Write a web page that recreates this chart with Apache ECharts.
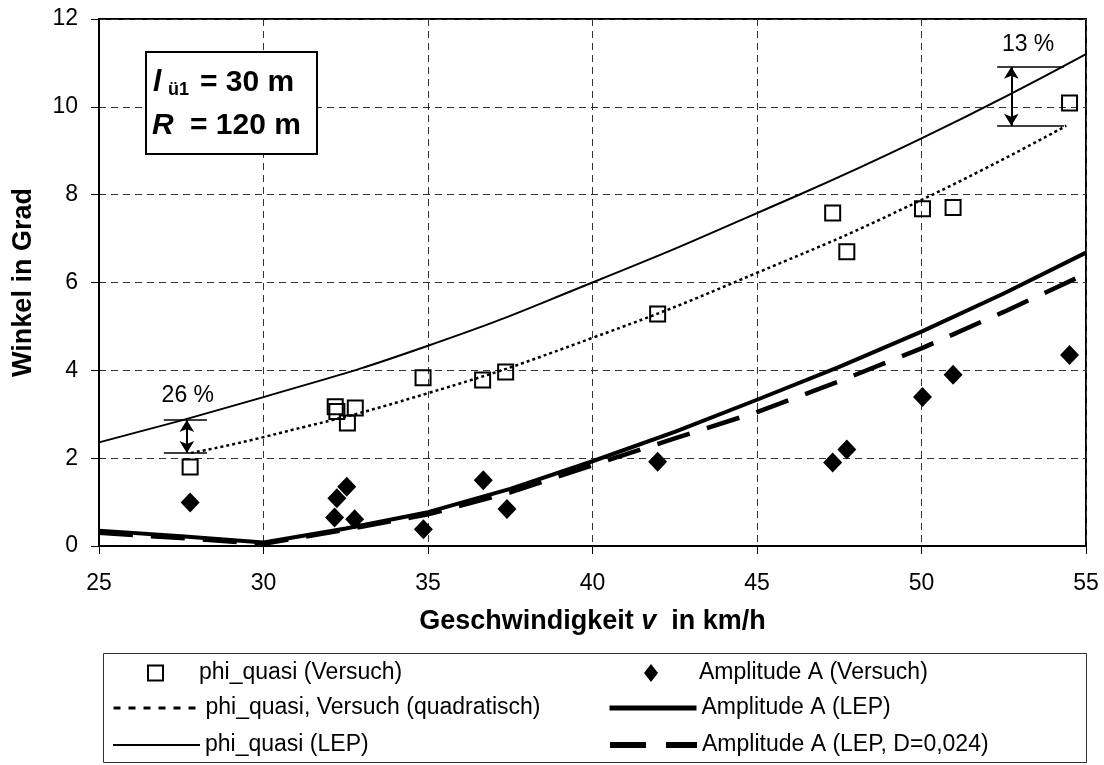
<!DOCTYPE html>
<html><head><meta charset="utf-8">
<script src="https://cdn.jsdelivr.net/npm/echarts@6/dist/echarts.min.js"></script>
<style>html,body{margin:0;padding:0;background:#fff}#c{width:1104px;height:765px}</style>
</head><body><div id="c"></div>
<script>
// ---- data ----
const xTicks = [25, 30, 35, 40, 45, 50, 55];
const yTicks = [0, 2, 4, 6, 8, 10, 12];

const phiVersuchX = [27.77, 32.18, 32.23, 32.55, 32.79, 34.85, 36.66, 37.36, 41.98, 47.3, 47.73, 50.03, 50.96, 54.5];
const phiVersuchY = [1.8, 3.17, 3.06, 2.8, 3.14, 3.83, 3.78, 3.96, 5.28, 7.58, 6.7, 7.68, 7.71, 10.09];

const ampVersuchX = [27.77, 32.16, 32.23, 32.53, 32.77, 34.86, 36.68, 37.4, 41.98, 47.3, 47.73, 50.03, 50.96, 54.5];
const ampVersuchY = [0.99, 0.65, 1.09, 1.35, 0.61, 0.38, 1.5, 0.84, 1.92, 1.9, 2.2, 3.39, 3.9, 4.35];

const quadX = [27.8, 30, 35, 40, 45, 50, 54.4];
const quadY = [2.12, 2.48, 3.48, 4.74, 6.22, 7.88, 9.57];

const phiLepX = [25, 30, 35, 40, 45, 50, 55];
const phiLepY = [2.36, 3.39, 4.56, 6.0, 7.58, 9.28, 11.2];

const ampLepX = [25, 27.5, 30, 32.5, 35, 37.5, 40, 42.5, 45, 47.5, 50, 52.5, 55];
const ampLepY = [0.35, 0.22, 0.08, 0.4, 0.77, 1.3, 1.93, 2.6, 3.33, 4.08, 4.88, 5.75, 6.68];

const ampDX = [25, 27.5, 30, 32.5, 35, 37.5, 40, 42.5, 45, 47.5, 50, 52.5, 55];
const ampDY = [0.3, 0.18, 0.05, 0.37, 0.72, 1.22, 1.84, 2.45, 3.05, 3.75, 4.5, 5.33, 6.2];

const seriesNames = [
  'phi_quasi (Versuch)',
  'Amplitude A (Versuch)',
  'phi_quasi, Versuch (quadratisch)',
  'Amplitude A (LEP)',
  'phi_quasi (LEP)',
  'Amplitude A (LEP, D=0,024)'
];

// annotation brackets (data coordinates)
const ann26 = { arrowX: 27.67, top: 2.87, bottom: 2.12, capFrom: 26.97, capTo: 28.28, labelX: 27.7, labelY: 3.43, text: '26 %' };
const ann13 = { arrowX: 52.73, top: 10.91, bottom: 9.57, capFrom: 52.3, capTo: 54.33, labelX: 53.24, labelY: 11.42, text: '13 %' };

// ---- chart ----
const FONT = '"Liberation Sans", Arial, sans-serif';
const pairs = (xs, ys) => xs.map((x, i) => [x, ys[i]]);
const chart = echarts.init(document.getElementById('c'), null, { renderer: 'canvas' });

function bracket(a) {
  return [
    [{ coord: [a.capFrom, a.top] }, { coord: [a.capTo, a.top] }],
    [{ coord: [a.capFrom, a.bottom] }, { coord: [a.capTo, a.bottom] }],
    [{ coord: [a.arrowX, a.top], symbol: 'arrow', symbolSize: [11, 12], lineStyle: { width: 2 } },
     { coord: [a.arrowX, a.bottom], symbol: 'arrow', symbolSize: [11, 12], lineStyle: { width: 2 } }]
  ];
}

function legendItem(name, left, top, w, h, extra) {
  return Object.assign({
    data: [name], left: left, top: top, itemWidth: w, itemHeight: h,
    selectedMode: false, padding: 0, itemGap: 0,
    textStyle: { fontSize: 23, color: '#000', fontFamily: FONT, lineHeight: 24 }
  }, extra || {});
}
const noDot = { color: 'rgba(0,0,0,0)', borderWidth: 0, borderColor: 'rgba(0,0,0,0)' };

const option = {
  animation: false,
  backgroundColor: '#fff',
  grid: { left: 99, right: 18, top: 19, bottom: 219, show: true, borderColor: '#000', borderWidth: 2,
          containLabel: false, outerBoundsMode: 'none', backgroundColor: 'transparent' },
  xAxis: {
    type: 'value', min: xTicks[0], max: xTicks[xTicks.length - 1], interval: 5,
    axisLine: { show: true, onZero: false, lineStyle: { color: '#000', width: 2 } },
    axisTick: { show: true, length: 8, lineStyle: { color: '#000', width: 1 } },
    axisLabel: { fontSize: 23, color: '#000', fontFamily: FONT, margin: 26 },
    splitLine: { show: true, lineStyle: { type: [7, 5], color: '#333', width: 1 } },
    name: '{b|Geschwindigkeit }{bi|v}{b|  in km/h}',
    nameLocation: 'middle', nameGap: 62,
    nameTextStyle: {
      rich: {
        b: { fontSize: 27, fontWeight: 'bold', fontFamily: FONT, color: '#000' },
        bi: { fontSize: 27, fontWeight: 'bold', fontStyle: 'italic', fontFamily: FONT, color: '#000' }
      }
    }
  },
  yAxis: {
    type: 'value', min: yTicks[0], max: yTicks[yTicks.length - 1], interval: 2,
    axisLine: { show: true, lineStyle: { color: '#000', width: 2 } },
    axisTick: { show: true, length: 8, lineStyle: { color: '#000', width: 1 } },
    axisLabel: { fontSize: 23, color: '#000', fontFamily: FONT, margin: 21 },
    splitLine: { show: true, lineStyle: { type: [7, 5], color: '#333', width: 1 } },
    name: 'Winkel in Grad', nameLocation: 'middle', nameGap: 62, nameRotate: 90,
    nameTextStyle: { fontSize: 27, fontWeight: 'bold', fontFamily: FONT, color: '#000' }
  },
  legend: [
    legendItem(seriesNames[0], 147, 661, 15, 15, { textStyle: { fontSize: 23, color: '#000', fontFamily: FONT, lineHeight: 24, padding: [0, 0, 0, 31] } }),
    legendItem(seriesNames[2], 112, 696, 87, 14, { itemStyle: noDot, lineStyle: { type: [7, 8], width: 3, color: '#000' } }),
    legendItem(seriesNames[4], 112, 733, 87, 14, { itemStyle: noDot, lineStyle: { type: 'solid', width: 2, color: '#000' } }),
    legendItem(seriesNames[1], 644, 661, 14, 18, { symbolKeepAspect: false, textStyle: { fontSize: 23, color: '#000', fontFamily: FONT, lineHeight: 24, padding: [0, 0, 0, 36] } }),
    legendItem(seriesNames[3], 607, 696, 87, 14, { itemStyle: noDot, lineStyle: { type: 'solid', width: 5, color: '#000' } }),
    legendItem(seriesNames[5], 607, 733, 87, 14, { itemStyle: noDot, lineStyle: { type: [36, 20], width: 6, color: '#000' } })
  ],
  graphic: [
    { type: 'rect', shape: { x: 103.5, y: 653.5, width: 983, height: 109 },
      style: { fill: 'none', stroke: '#333', lineWidth: 1 }, z: -1 },
    { type: 'rect', shape: { x: 146, y: 52, width: 171, height: 102 },
      style: { fill: '#fff', stroke: '#000', lineWidth: 2 }, z: 100 },
    { type: 'text', x: 153, y: 83, z: 101, style: { text: 'l', fontSize: 30, fontWeight: 'bold', fontStyle: 'italic', fontFamily: FONT, fill: '#000', verticalAlign: 'middle' } },
    { type: 'text', x: 168, y: 90, z: 101, style: { text: 'ü1', fontSize: 18, fontWeight: 'bold', fontFamily: FONT, fill: '#000', verticalAlign: 'middle' } },
    { type: 'text', x: 200, y: 83, z: 101, style: { text: '= 30 m', fontSize: 30, fontWeight: 'bold', fontFamily: FONT, fill: '#000', verticalAlign: 'middle' } },
    { type: 'text', x: 152, y: 126, z: 101, style: { text: 'R', fontSize: 30, fontWeight: 'bold', fontStyle: 'italic', fontFamily: FONT, fill: '#000', verticalAlign: 'middle' } },
    { type: 'text', x: 190, y: 126, z: 101, style: { text: '= 120 m', fontSize: 30, fontWeight: 'bold', fontFamily: FONT, fill: '#000', verticalAlign: 'middle' } }
  ],
  series: [
    {
      name: seriesNames[2], type: 'line', data: pairs(quadX, quadY), smooth: true, symbol: 'none',
      itemStyle: { color: '#000' },
      lineStyle: { type: [3, 3], width: 2.5, color: '#000' }, z: 3
    },
    {
      name: seriesNames[4], type: 'line', data: pairs(phiLepX, phiLepY), smooth: true, symbol: 'none',
      itemStyle: { color: '#000' },
      lineStyle: { type: 'solid', width: 2, color: '#000' }, z: 3,
      markLine: {
        silent: true, symbol: 'none', animation: false,
        label: { show: false },
        lineStyle: { color: '#000', width: 1.5, type: 'solid' },
        emphasis: { disabled: true },
        data: bracket(ann26).concat(bracket(ann13))
      },
      markPoint: {
        silent: true, symbol: 'rect', symbolSize: 1, itemStyle: { color: 'rgba(0,0,0,0)' },
        label: { show: true, position: 'inside', formatter: '{b}', fontSize: 23, color: '#000', fontFamily: FONT },
        data: [
          { name: ann26.text, coord: [ann26.labelX, ann26.labelY] },
          { name: ann13.text, coord: [ann13.labelX, ann13.labelY] }
        ]
      }
    },
    {
      name: seriesNames[3], type: 'line', data: pairs(ampLepX, ampLepY), smooth: false, symbol: 'none',
      itemStyle: { color: '#000' },
      lineStyle: { type: 'solid', width: 4, color: '#000', join: 'round' }, z: 3
    },
    {
      name: seriesNames[5], type: 'line', data: pairs(ampDX, ampDY), smooth: false, symbol: 'none',
      itemStyle: { color: '#000' },
      lineStyle: { type: [34, 18], width: 4.5, color: '#000' }, z: 3
    },
    {
      name: seriesNames[0], type: 'scatter', data: pairs(phiVersuchX, phiVersuchY),
      symbol: 'rect', symbolSize: 15,
      itemStyle: { color: 'rgba(255,255,255,0)', borderColor: '#000', borderWidth: 2, opacity: 1 }, z: 5
    },
    {
      name: seriesNames[1], type: 'scatter', data: pairs(ampVersuchX, ampVersuchY),
      symbol: 'diamond', symbolSize: [19, 20],
      itemStyle: { color: '#000', opacity: 1 }, z: 5
    }
  ]
};
chart.setOption(option);
</script>
</body></html>
